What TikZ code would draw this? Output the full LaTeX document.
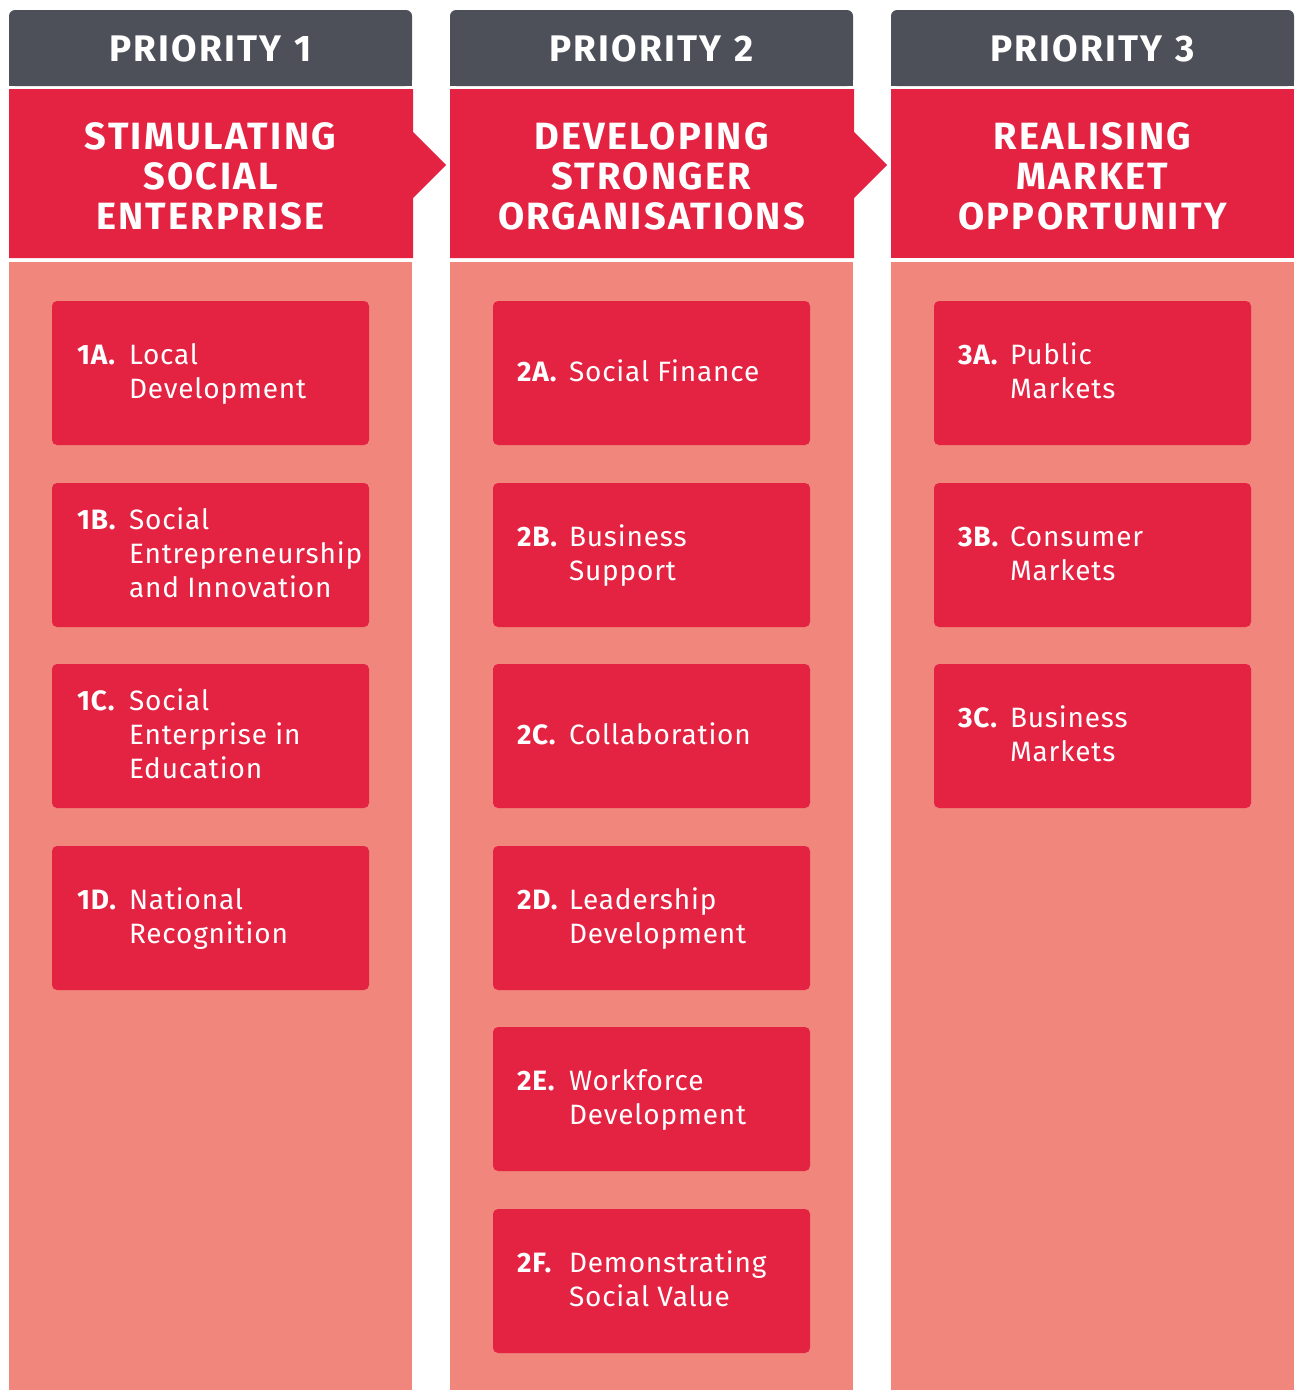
\documentclass[tikz,border=0pt]{standalone}
\usepackage{fontspec}
\setmainfont{Fira Sans}[LetterSpace=6]
\newfontfamily\itemfont{Fira Sans}[LetterSpace=3]
\usetikzlibrary{positioning}

\definecolor{hdrgray}{RGB}{77,80,88}
\definecolor{prired}{RGB}{228,34,66}
\definecolor{prisalmon}{RGB}{240,134,124}

\tikzset{
    hdrtext/.style={text=white, font=\fontsize{37}{40}\selectfont\bfseries, inner sep=0pt},
    bandtext/.style={text=white, font=\fontsize{38}{40}\selectfont\bfseries, align=center, inner sep=0pt},
    itembox/.style={fill=prired, rounded corners=5pt, minimum width=317pt, minimum height=144pt, inner sep=0pt},
    itemtext/.style={text=white, font=\itemfont\fontsize{28}{34}\selectfont, inner sep=0pt, yshift=-2pt}
}

% label and text of one item
\newcommand{\itemlabel}[2]{\makebox[52pt][l]{\bfseries #1}\begin{tabular}[t]{@{}l@{}}#2\end{tabular}}

\begin{document}
\begin{tikzpicture}[x=1pt, y=-1pt]
    \useasboundingbox (0,0) rectangle (1300,1390);

    % columns
    \foreach \i/\x in {1/9, 2/450, 3/891} {
        \fill[hdrgray, rounded corners=6pt] (\x,10) rectangle (\x+403,86);
        \fill[hdrgray] (\x,50) rectangle (\x+403,86);
        \node[hdrtext] (hdr\i) at (\x+201.5,49) {PRIORITY\hspace{0.35em}\i};
        \fill[prisalmon] (\x,262) rectangle (\x+403,1390);
    }

    % red bands, the first two point on to the next
    \foreach \x in {9, 450}
        \fill[prired] (\x,89) -- (\x+404,89) -- (\x+404,132) -- (\x+437,165)
            -- (\x+404,198) -- (\x+404,258) -- (\x,258) -- cycle;
    \fill[prired] (891,89) rectangle (1294,258);

    \node[bandtext] (band1) at (210.5,176) {STIMULATING\\SOCIAL\\ENTERPRISE};
    \node[bandtext] (band2) at (651.5,176) {DEVELOPING\\STRONGER\\ORGANISATIONS};
    \node[bandtext] (band3) at (1092.5,176) {REALISING\\MARKET\\OPPORTUNITY};

    % priority 1
    \node[itembox] (box1A) at (210.5,373) {};
    \node[itembox] (box1B) at (210.5,555) {};
    \node[itembox] (box1C) at (210.5,736) {};
    \node[itembox] (box1D) at (210.5,918) {};
    \node[itemtext, right=25pt of box1A.west] (txt1A) {\itemlabel{1A.}{Local\\Development}};
    \node[itemtext, right=25pt of box1B.west] (txt1B) {\itemlabel{1B.}{Social\\Entrepreneurship\\and Innovation}};
    \node[itemtext, right=25pt of box1C.west] (txt1C) {\itemlabel{1C.}{Social\\Enterprise in\\Education}};
    \node[itemtext, right=25pt of box1D.west] (txt1D) {\itemlabel{1D.}{National\\Recognition}};

    % priority 2
    \node[itembox] (box2A) at (651.5,373) {};
    \node[itembox] (box2B) at (651.5,555) {};
    \node[itembox] (box2C) at (651.5,736) {};
    \node[itembox] (box2D) at (651.5,918) {};
    \node[itembox] (box2E) at (651.5,1099) {};
    \node[itembox] (box2F) at (651.5,1281) {};
    \node[itemtext, right=24pt of box2A.west] (txt2A) {\itemlabel{2A.}{Social Finance}};
    \node[itemtext, right=24pt of box2B.west] (txt2B) {\itemlabel{2B.}{Business\\Support}};
    \node[itemtext, right=24pt of box2C.west] (txt2C) {\itemlabel{2C.}{Collaboration}};
    \node[itemtext, right=24pt of box2D.west] (txt2D) {\itemlabel{2D.}{Leadership\\Development}};
    \node[itemtext, right=24pt of box2E.west] (txt2E) {\itemlabel{2E.}{Workforce\\Development}};
    \node[itemtext, right=24pt of box2F.west] (txt2F) {\itemlabel{2F.}{Demonstrating\\Social Value}};

    % priority 3
    \node[itembox] (box3A) at (1092.5,373) {};
    \node[itembox] (box3B) at (1092.5,555) {};
    \node[itembox] (box3C) at (1092.5,736) {};
    \node[itemtext, right=24pt of box3A.west] (txt3A) {\itemlabel{3A.}{Public\\Markets}};
    \node[itemtext, right=24pt of box3B.west] (txt3B) {\itemlabel{3B.}{Consumer\\Markets}};
    \node[itemtext, right=24pt of box3C.west] (txt3C) {\itemlabel{3C.}{Business\\Markets}};
\end{tikzpicture}
\end{document}
